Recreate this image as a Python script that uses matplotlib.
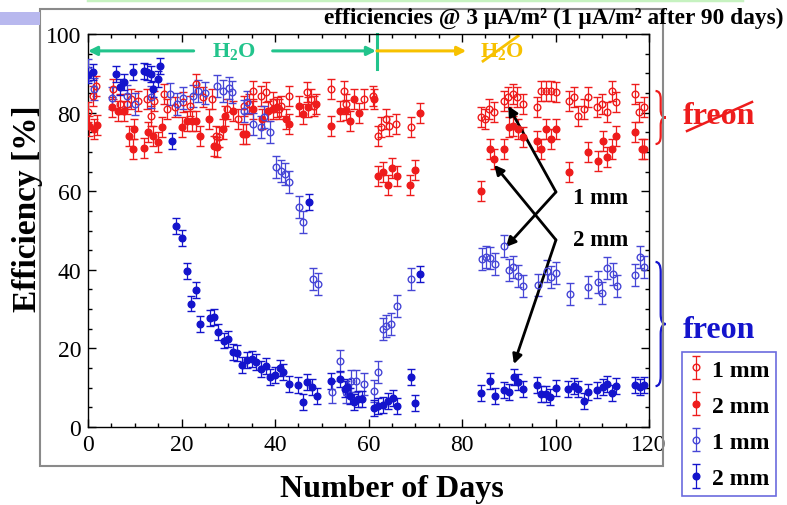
import numpy as np
import matplotlib.pyplot as plt
from matplotlib.path import Path
from matplotlib.patches import PathPatch, Rectangle
from matplotlib.lines import Line2D
from matplotlib.ticker import MultipleLocator

plt.rcParams['font.family'] = ['Liberation Serif', 'DejaVu Serif']
plt.rcParams['mathtext.fontset'] = 'custom'
plt.rcParams['mathtext.rm'] = 'Liberation Serif'
plt.rcParams['mathtext.bf'] = 'Liberation Serif:bold'

# --- data ---
# freon, 1 mm (red open)
days_r1 = [0, 1, 1.8, 5.4, 6.9, 8.4, 9.1, 10.8, 12.7, 13.4, 14.2, 16.2, 17, 18.7, 20.4,
           21.9, 23, 24.5, 26.6, 27.3, 28, 29.8, 32, 33.3, 34.4, 35.4, 36.9, 38, 39.5, 40.8,
           41.2, 42.9, 46.9, 47.6, 48.3, 51.9, 54.7, 55.1, 59, 60.9, 62, 62.7, 63.7, 64.4,
           65.8, 69.1, 84.1, 84.9, 85.8, 86.9, 89, 89.8, 91, 91.8, 93, 96, 96.9, 98, 99, 100,
           102.8, 104, 104.8, 106.1, 107, 108.9, 110, 111, 112.1, 113, 116.9, 117.9, 119]
eff_r1 = [80.2, 84.2, 86.8, 86, 82.2, 82.2, 83.5, 83, 83.5, 79.1, 83, 84.7, 80.9, 81.4, 82.7,
          81.7, 87.3, 84, 83.5, 74, 73.8, 80.9, 78.4, 81.7, 82.2, 85.5, 84.2, 85.2, 82.7, 80.9,
          81.7, 84.2, 85.2, 83.5, 81.7, 86, 85.5, 82.2, 83.5, 84.2, 74, 76.3, 78.4, 76.6,
          77.1, 76.3, 78.9, 78.4, 80.9, 80.2, 83, 84, 84.7, 84, 82.2, 81.4, 85.5, 85.5, 85.5, 85.2,
          83, 84, 79.1, 80.9, 84, 81.4, 82.2, 80.2, 85.5, 82.7, 84.7, 80.2, 81.4]

# freon, 2 mm (red filled)
days_r2 = [0.3, 1.2, 2, 5.2, 6.5, 7.6, 8.8, 9.9, 9.7, 11.9, 12.9, 14, 15, 15.9, 20.2,
           21.2, 22.3, 23.2, 23.9, 25.8, 26.9, 27.7, 28.8, 29.4, 31.1, 33.1, 33.7, 35.4, 37.3, 38.4,
           39.5, 40.5, 42.3, 43, 45.1, 45.9, 47, 48.7, 51.9, 54, 55.1, 56, 56.9, 58, 61.1,
           62, 63, 64.1, 65, 66.1, 68.9, 70, 71, 84.1, 86, 86.9, 89, 90.1, 91, 92,
           93, 96, 96.9, 98, 99, 100.1, 102.9, 107, 109, 110.2, 111.1, 112.1, 113, 117.1, 118.4, 119]
eff_r2 = [76.6, 75.8, 76.8, 81.4, 80.4, 80.4, 74, 75.8, 70.7, 71, 75.1, 74, 72.5, 76.3, 76.3,
          77.9, 77.9, 77.9, 74, 78.4, 71.5, 71.2, 75.8, 79.1, 80.4, 74.6, 74.6, 80.9, 78.4, 80.4,
          80.9, 81.4, 78.4, 77.1, 81.7, 79.6, 81.4, 82.2, 76.6, 80.4, 80.7, 77.9, 83.5, 79.9, 83.5,
          63.9, 64.9, 61.6, 65.9, 63.9, 61.6, 65.4, 79.9, 60, 70.7, 68.2, 70.7, 76.3, 76.6, 75.8,
          73.8, 72.8, 70.7, 75.8, 73.3, 75.8, 64.9, 70, 67.7, 72.8, 68.7, 70.7, 74, 75.1, 70.7, 70.7]

# no freon, 1 mm (blue open)
days_b1 = [0, 1.2, 5.2, 8.4, 10.1, 13.4, 17.6, 19.1, 20.4, 22.5, 23.6, 25.1, 27.7, 28.8, 30.1,
           30.9, 33.3, 34.1, 35.4, 36.9, 37.6, 39, 40.2, 41.2, 42.1, 43, 45.1, 46, 48.1, 49.1,
           52.2, 53.9, 55.1, 56.2, 57.3, 59, 61.1, 62, 63, 63.8, 64.8, 66, 69.1,
           84.2, 85.1, 86, 87, 89, 90, 91, 92, 93, 96.3, 98.2, 99, 100, 103, 107, 109, 110,
           111.1, 112.3, 113.2, 116.9, 118.1, 119]
eff_b1 = [90.8, 86, 83.7, 84.2, 82.2, 84, 84.7, 82.2, 83.7, 84.2, 85.5, 85, 86.8, 85.5, 86.3,
          85.2, 80.4, 82.7, 77.1, 76.3, 78.9, 75.1, 66.2, 65.1, 64.4, 62.3, 56, 52.2, 37.7, 36.4,
          8.9, 16.8, 8.9, 11.7, 11.7, 10.9, 9.2, 14, 24.9, 25.7, 26.2, 30.8, 37.7,
          42.7, 43.3, 43, 41.5, 46.1, 40, 40.7, 38.4, 35.9, 36.1, 39.7, 38.2, 39.2, 33.8, 35.6, 36.9, 34.1,
          40.5, 38.9, 35.9, 38.7, 43.3, 40.7]

# no freon, 2 mm (blue filled)
days_b2 = [0, 1, 5.9, 6.8, 7.6, 9.7, 11.9, 12.6, 13.4, 14, 14.9, 15.5, 18, 18.9, 20,
           21.1, 22, 23, 23.9, 26, 26.9, 27.8, 29, 29.9, 31.1, 31.9, 33, 34.1, 35, 35.9,
           37, 38, 39, 40.1, 41, 41.8, 42.9, 45, 45.9, 46.9, 47.2, 48, 49, 51.9, 54,
           55, 55.5, 56, 57, 57.8, 58.6, 61.1, 62, 63, 64.1, 65.2, 66.1, 69.1, 70, 71,
           84, 86, 87.1, 89, 90.1, 91.1, 92, 93.1, 96, 96.9, 98, 98.9, 100.2, 102.7, 104,
           104.8, 106.1, 107, 108.9, 110.2, 111.1, 112.1, 113, 117.1, 118.1, 119]
eff_b2 = [89.6, 90.3, 89.8, 86.5, 87.8, 90.3, 90.6, 90.3, 89.8, 86, 88.5, 91.8, 72.8, 51.2, 48.1,
          39.7, 31.4, 34.8, 26.2, 27.7, 28, 24.2, 22, 22.4, 19, 18.8, 15.8, 17, 17.3, 16.5,
          14.8, 15.6, 12.7, 13.2, 15, 14, 11, 10.7, 6.4, 11.5, 57.2, 10.2, 7.9, 11.7, 12.2,
          9.7, 10.2, 7.9, 6.4, 7.1, 7.1, 4.8, 5.3, 5.6, 6.6, 7.4, 5.3, 12.7, 6.1, 38.9,
          8.6, 11.7, 7.9, 9.4, 8.9, 12.7, 11.5, 9.7, 10.7, 8.4, 8.4, 7.6, 9.9, 9.7, 10.4,
          9.7, 6.6, 8.9, 9.4, 10.2, 10.9, 8.6, 10.4, 10.7, 10.2, 10.7]

err_r1, err_r2, err_b1, err_b2 = 2.5, 2.5, 2.8, 2.0
labels = ['1 mm', '2 mm', '1 mm', '2 mm']

RED = '#ee1c1c'
BLUE = '#1414cc'
BLUE_O = '#4646d6'
GREEN = '#22c48c'
YELLOW = '#f7c100'

W, H = 787, 506
fig = plt.figure(figsize=(W / 100, H / 100), dpi=100)


def fx(px):
    return px / W


def fy(py):
    return 1 - py / H


# slide leftovers: outer frame, green rule, logo bit
fig.add_artist(Rectangle((fx(40), fy(467)), (663 - 40) / W, (467 - 10) / H,
                         transform=fig.transFigure, fill=False, ec='#8a8a8a', lw=1.5))
fig.add_artist(Line2D([fx(88), fx(742)], [fy(1), fy(1)], color='#c6f2c0', lw=2.5))
fig.add_artist(Rectangle((0, fy(26)), fx(40), 13 / H, transform=fig.transFigure,
                         color='#b8b8ee', lw=0))

ax = fig.add_axes([fx(88), fy(428), (649 - 88) / W, (428 - 35) / H])


def plot_series(x, y, err, color, filled):
    return ax.errorbar(x, y, yerr=err, fmt='o', ms=4.8, color=color,
                       mfc=color if filled else 'none', mec=color, mew=1,
                       elinewidth=0.9, capsize=3, capthick=0.9, zorder=3)


h1 = plot_series(days_r1, eff_r1, err_r1, RED, False)
h2 = plot_series(days_r2, eff_r2, err_r2, RED, True)
h3 = plot_series(days_b1, eff_b1, err_b1, BLUE_O, False)
h4 = plot_series(days_b2, eff_b2, err_b2, BLUE, True)

ax.set_xlim(0, 120)
ax.set_ylim(0, 100)
ax.set_xticks(range(0, 121, 20))
ax.set_yticks(range(0, 101, 20))
ax.xaxis.set_minor_locator(MultipleLocator(5))
ax.yaxis.set_minor_locator(MultipleLocator(5))
ax.tick_params(which='both', direction='in', top=True, right=True, labelsize=17, width=1)
ax.tick_params(which='major', length=6, pad=5)
ax.tick_params(which='minor', length=3)
for s in ax.spines.values():
    s.set_linewidth(1)

fig.text(fx(392), fy(490), 'Number of Days', ha='center', va='center',
         fontsize=23, fontweight='bold')
fig.text(fx(28), fy(209), 'Efficiency [%]', ha='center', va='center',
         fontsize=24, fontweight='bold', rotation=90)
fig.text(fx(783), fy(18), 'efficiencies @ 3 \u03bcA/m\u00b2 (1 \u03bcA/m\u00b2 after 90 days)',
         ha='right', va='center', fontsize=16.8, fontweight='bold')

# H2O arrows
y_arr = 95.7
ax.annotate('', xy=(0, y_arr), xytext=(22.6, y_arr), annotation_clip=False,
            arrowprops=dict(arrowstyle='-|>', color=GREEN, lw=2.2, mutation_scale=13,
                            shrinkA=0, shrinkB=0))
ax.annotate('', xy=(61.6, y_arr), xytext=(39.5, y_arr), annotation_clip=False,
            arrowprops=dict(arrowstyle='-|>', color=GREEN, lw=2.2, mutation_scale=13,
                            shrinkA=0, shrinkB=0))
ax.plot([61.8, 61.8], [100, 91.1], color=GREEN, lw=2.2, clip_on=False)
ax.annotate('', xy=(80.9, y_arr), xytext=(61.8, y_arr), annotation_clip=False,
            arrowprops=dict(arrowstyle='-|>', color=YELLOW, lw=2.2, mutation_scale=13,
                            shrinkA=0, shrinkB=0))
ax.text(31.2, y_arr, r'H$_\mathbf{2}$O', color=GREEN, ha='center', va='center',
        fontsize=16, fontweight='bold')
ax.text(88.6, y_arr, r'H$_\mathbf{2}$O', color=YELLOW, ha='center', va='center',
        fontsize=16, fontweight='bold')
ax.plot([84.5, 92], [93.1, 99.5], color=YELLOW, lw=2, clip_on=False)

# 1 mm / 2 mm pointers
for tip, base in [((89.9, 81.7), (100.1, 59.8)), ((89.4, 45.8), (100.1, 59.8)),
                  ((86.9, 66.7), (100.1, 47.6)), ((91.1, 16.0), (100.1, 47.6))]:
    ax.annotate('', xy=tip, xytext=base,
                arrowprops=dict(arrowstyle='-|>', color='black', lw=2, mutation_scale=14,
                                shrinkA=0, shrinkB=0))
ax.text(103.8, 58.3, '1 mm', fontsize=16.5, fontweight='bold', va='center')
ax.text(103.8, 47.6, '2 mm', fontsize=16.5, fontweight='bold', va='center')


def brace(x0, y_lo, y_hi, w, r, color):
    ym = (y_lo + y_hi) / 2
    xm = x0 + w / 2
    verts = [(x0, y_hi), (xm, y_hi), (xm, y_hi - r), (xm, ym + r), (xm, ym), (x0 + w, ym),
             (x0 + w, ym), (xm, ym), (xm, ym - r), (xm, y_lo + r), (xm, y_lo), (x0, y_lo)]
    codes = [Path.MOVETO, Path.CURVE3, Path.CURVE3, Path.LINETO, Path.CURVE3, Path.CURVE3,
             Path.MOVETO, Path.CURVE3, Path.CURVE3, Path.LINETO, Path.CURVE3, Path.CURVE3]
    ax.add_patch(PathPatch(Path(verts, codes), fill=False, ec=color, lw=1.6, clip_on=False))


brace(121.4, 72, 85.5, 2.2, 2.0, RED)
brace(121.4, 10.4, 42, 2.2, 2.5, BLUE)
fig.text(fx(683), fy(117), 'freon', color=RED, fontsize=23, fontweight='bold', va='center')
fig.add_artist(Line2D([fx(687), fx(752)], [fy(132), fy(103)], color=RED, lw=1.8))
fig.text(fx(683), fy(330), 'freon', color=BLUE, fontsize=23, fontweight='bold', va='center')

leg = ax.legend([h1, h2, h3, h4], labels, loc='upper left',
                bbox_to_anchor=(fx(682), fy(353)), bbox_transform=fig.transFigure,
                frameon=True, fancybox=False, edgecolor=BLUE_O, borderaxespad=0,
                prop=dict(family='Liberation Serif', weight='bold', size=17),
                handlelength=0.6, handletextpad=0.35, labelspacing=0.62, borderpad=0.3)
leg.get_frame().set_linewidth(1.2)

fig.savefig('out.png', dpi=100)
